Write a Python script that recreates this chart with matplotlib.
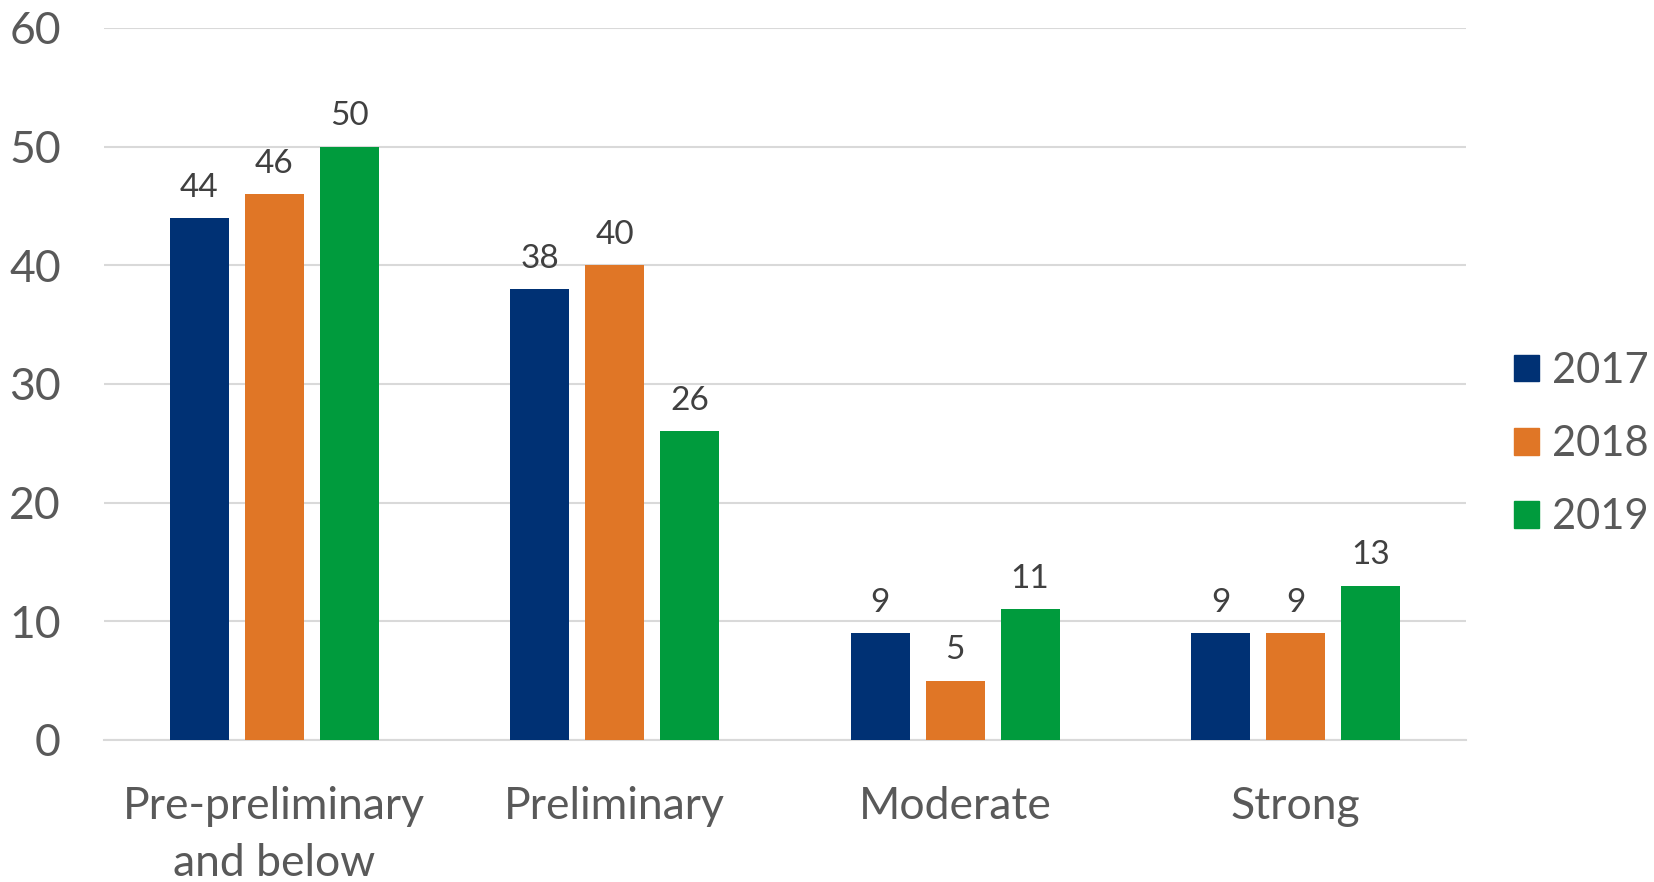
import numpy as np
import matplotlib
matplotlib.use("Agg")
import matplotlib.pyplot as plt
from matplotlib.patches import Patch

categories = ["Pre-preliminary\nand below", "Preliminary", "Moderate", "Strong"]
years = ["2017", "2018", "2019"]
v2017 = [44, 38, 9, 9]
v2018 = [46, 40, 5, 9]
v2019 = [50, 26, 11, 13]
colors = ["#003174", "#E07626", "#009B3D"]

plt.rcParams["font.family"] = ["Lato", "DejaVu Sans"]

fig = plt.figure(figsize=(16.54, 8.82), dpi=100)
ax = fig.add_axes([104 / 1654, 1 - 740 / 882, (1466 - 104) / 1654, (740 - 28) / 882])

x = np.arange(len(categories))
width = 0.173
offsets = [-0.22, 0.0, 0.22]
for vals, off, col, yr in zip([v2017, v2018, v2019], offsets, colors, years):
    bars = ax.bar(x + off, vals, width, color=col, label=yr, zorder=3)
    ax.bar_label(bars, labels=[str(v) for v in vals], padding=11,
                 fontsize=24, color="#404040")

ax.set_xlim(-0.5, 3.5)
ax.set_ylim(0, 60)
ax.set_yticks(range(0, 61, 10))
ax.yaxis.grid(True, color="#D9D9D9", lw=1.5, zorder=0)
for s in ["top", "right", "left"]:
    ax.spines[s].set_visible(False)
ax.spines["bottom"].set_color("#D9D9D9")
ax.spines["bottom"].set_linewidth(1.5)
ax.set_xticks(x)
ax.set_xticklabels(categories, linespacing=1.5)
ax.tick_params(axis="both", length=0, labelsize=32, labelcolor="#595959")
ax.tick_params(axis="x", pad=33)
ax.tick_params(axis="y", pad=31)

handles = [Patch(color=c, label=y) for c, y in zip(colors, years)]
fig.legend(handles=handles, loc="center left", bbox_to_anchor=(1514 / 1654, 1 - 444 / 882),
           frameon=False, fontsize=30, labelcolor="#595959", handlelength=0.6,
           handleheight=0.6, handletextpad=0.32, labelspacing=0.85,
           borderpad=0, borderaxespad=0)

fig.savefig("out.png", dpi=100)
